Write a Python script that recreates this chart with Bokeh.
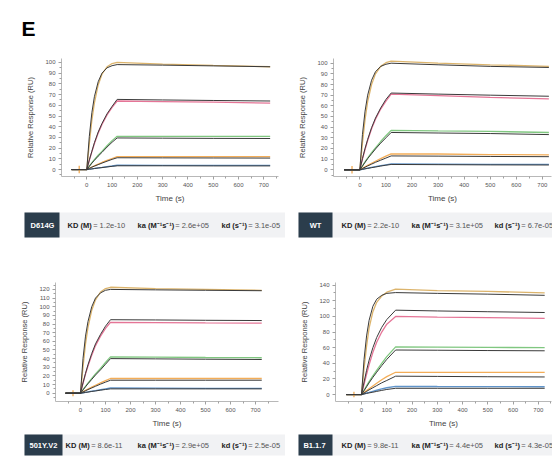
from bokeh.plotting import figure
from bokeh.layouts import column, row
from bokeh.models import Range1d, FixedTicker
from bokeh.core.properties import value
from bokeh.embed import file_html
from bokeh.resources import INLINE

# ---------------- data ----------------
T_STD = [-60, 0, 10, 20, 30, 45, 60, 80, 100, 120, 300, 500, 725]
T_B117 = [-60, 0, 10, 20, 30, 45, 60, 80, 100, 135, 300, 500, 725]

X_TICKS = [0, 100, 200, 300, 400, 500, 600, 700]
X_MINOR = [-50, 50, 150, 250, 350, 450, 550, 650, 750]
Y_TICKS_100 = [0, 10, 20, 30, 40, 50, 60, 70, 80, 90, 100]
Y_MINOR_100 = [-5, 5, 15, 25, 35, 45, 55, 65, 75, 85, 95]
Y_TICKS_120 = [0, 10, 20, 30, 40, 50, 60, 70, 80, 90, 100, 110, 120]
Y_MINOR_120 = [-5, 5, 15, 25, 35, 45, 55, 65, 75, 85, 95, 105, 115, 125]
Y_TICKS_140 = [0, 20, 40, 60, 80, 100, 120, 140]
Y_MINOR_140 = [10, 30, 50, 70, 90, 110, 130]

INJ_T = [-30, -30]
INJ_Y = [-3.5, 3.5]

D614G_FIT = [
    [0, 0, 31, 53, 68, 82, 90, 95, 97, 98, 97.5, 96.8, 96],
    [0, 0, 9, 17, 25, 35, 43, 52, 59, 65.5, 65, 64.5, 64],
    [0, 0, 3, 6, 8.6, 12.5, 16, 21, 25.5, 29.5, 29.3, 29.1, 29],
    [0, 0, 1.1, 2.2, 3.2, 4.6, 6, 7.8, 9.5, 11, 10.9, 10.8, 10.7],
    [0, 0, 0.3, 0.6, 0.9, 1.4, 1.8, 2.4, 3, 3.5, 3.5, 3.4, 3.4],
]
D614G_DATA = [
    [0, 0, 24, 46, 62, 79, 89, 96, 99, 100, 98.5, 97.2, 96],
    [0, 0, 8.5, 16.5, 24, 34, 42, 51, 58, 64, 63.5, 63, 62],
    [0, 0, 3.2, 6.3, 9.2, 13.3, 17, 22.2, 27, 31, 31, 31, 31],
    [0, 0, 1.2, 2.4, 3.5, 5, 6.6, 8.5, 10.3, 12, 12, 12, 12],
    [0, 0, 0.35, 0.7, 1, 1.5, 2, 2.7, 3.3, 4, 3.9, 3.9, 3.8],
]
WT_FIT = [
    [0, 0, 33, 55, 70, 84, 92, 97, 99, 100, 98.5, 97, 96],
    [0, 0, 10.5, 20, 28.5, 39.5, 48.5, 58, 66, 72, 71, 70, 69],
    [0, 0, 3.5, 7, 10.5, 15, 19.5, 25, 30, 35, 34.5, 34, 33],
    [0, 0, 1.2, 2.4, 3.6, 5.3, 7, 9, 11, 13, 12.8, 12.5, 12.3],
    [0, 0, 0.4, 0.9, 1.3, 2, 2.6, 3.5, 4.3, 5, 4.8, 4.6, 4.5],
]
WT_DATA = [
    [0, 0, 25, 47, 64, 80, 90, 97, 100.5, 102, 100, 98.5, 97],
    [0, 0, 10, 19, 27.5, 38.5, 47.5, 57, 64.5, 71, 69.5, 68, 66.5],
    [0, 0, 3.7, 7.5, 11, 16, 20.5, 26.5, 32, 37, 36.5, 36, 35],
    [0, 0, 1.4, 2.8, 4.2, 6.1, 8, 10.5, 12.8, 15, 14.8, 14.3, 14],
    [0, 0, 0.45, 1, 1.5, 2.2, 2.9, 3.8, 4.7, 5.5, 5.3, 5.1, 5],
]
V2_FIT = [
    [0, 0, 40, 66, 83, 100, 110, 116, 119, 120, 119.5, 119, 118.5],
    [0, 0, 12, 23, 33, 46, 57, 68, 77.5, 85, 84.7, 84.3, 84],
    [0, 0, 3.8, 7.5, 11, 16, 21, 27, 33.5, 40, 39.7, 39.3, 39],
    [0, 0, 1.4, 2.8, 4.2, 6.1, 8, 10.5, 12.8, 15, 15, 15, 15],
    [0, 0, 0.4, 0.9, 1.3, 2, 2.6, 3.5, 4.3, 5, 5, 5, 5],
]
V2_DATA = [
    [0, 0, 30, 57, 76, 96, 108, 117, 121, 122.5, 121, 120, 119],
    [0, 0, 11.5, 22, 31.5, 44, 55, 66, 75, 82, 81.7, 81.3, 81],
    [0, 0, 4, 8, 11.7, 17, 22.3, 28.6, 35.5, 42, 41.7, 41.3, 41],
    [0, 0, 1.6, 3.2, 4.8, 7, 9.2, 12, 14.6, 17, 17, 17, 17],
    [0, 0, 0.5, 1, 1.5, 2.3, 3, 4, 5, 6, 5.8, 5.6, 5.5],
]
B117_FIT = [
    [0, 0, 45, 75, 95, 113, 122, 127, 129.5, 130.5, 129.5, 128.5, 127],
    [0, 0, 16, 31, 44, 60, 73, 86, 96, 108, 107, 106, 105],
    [0, 0, 5, 10, 15, 22, 28.5, 37, 45, 57, 56.7, 56.3, 56],
    [0, 0, 2, 4, 6, 8.7, 11.4, 15, 18, 23.5, 23.2, 22.8, 22.5],
    [0, 0, 0.7, 1.4, 2.1, 3, 4, 5.3, 6.5, 8, 8, 8, 8],
]
B117_DATA = [
    [0, 0, 33, 62, 85, 106, 118, 126, 131, 135, 133, 132, 130],
    [0, 0, 13, 26, 38, 54, 67, 80, 90, 100, 99, 98.5, 97.5],
    [0, 0, 5.5, 11, 16.5, 24, 31, 40, 48.5, 61, 60.7, 60.3, 60],
    [0, 0, 2.5, 5, 7.4, 11, 14.5, 19, 23, 28.5, 28.5, 28.5, 28.5],
    [0, 0, 1, 2, 2.8, 4.2, 5.5, 7.2, 8.7, 10.5, 10.3, 10.2, 10],
]

NAMES = ["D614G", "WT", "501Y.V2", "B1.1.7"]
KD = ["1.2e-10", "2.2e-10", "8.6e-11", "9.8e-11"]
KA = ["2.6e+05", "3.1e+05", "2.9e+05", "4.4e+05"]
KDIS = ["3.1e-05", "6.7e-05", "2.5e-05", "4.3e-05"]

DATA_COLORS = ["#d8ac5c", "#e2668c", "#72c172", "#f2a446", "#4f88c4"]
FIT_COLOR = "#3a3a3a"
FONT = "Liberation Sans"

# ---------------- helpers ----------------
BOLD_W = {"K": .722, "D": .722, " ": .278, "(": .333, ")": .333, "M": .833, "k": .556,
          "a": .556, "d": .611, "s": .556, "\u00b9": .333, "\u207b": .36}


def bold_width(s, size):
    return sum(BOLD_W.get(c, .556) for c in s) * size


def make_panel(width, height, xr, yr, borders, yticks, yminor, T, fits, datas):
    bl, br, bt, bb = borders
    p = figure(width=width, height=height, x_range=Range1d(*xr), y_range=Range1d(*yr),
               output_backend="svg", toolbar_location=None,
               min_border_left=bl, min_border_right=br, min_border_top=bt, min_border_bottom=bb)
    p.outline_line_color = None
    p.grid.visible = False
    p.xaxis.ticker = FixedTicker(ticks=X_TICKS, minor_ticks=X_MINOR)
    p.yaxis.ticker = FixedTicker(ticks=yticks, minor_ticks=yminor)
    p.xaxis.axis_label = "Time (s)"
    p.yaxis.axis_label = "Relative Response (RU)"
    for ax in (p.xaxis[0], p.yaxis[0]):
        ax.axis_line_color = "#b8b8b8"
        ax.major_tick_line_color = "#a0a0a0"
        ax.minor_tick_line_color = "#a0a0a0"
        ax.major_tick_out = 3
        ax.major_tick_in = 0
        ax.minor_tick_out = 2
        ax.minor_tick_in = 0
        ax.major_label_text_font = FONT
        ax.major_label_text_font_size = "6px"
        ax.major_label_text_color = "#555555"
        ax.major_label_standoff = 3
        ax.axis_label_text_font = FONT
        ax.axis_label_text_font_style = "normal"
        ax.axis_label_text_color = "#444444"
    p.xaxis.axis_label_text_font_size = "8px"
    p.xaxis.axis_label_standoff = 4
    p.yaxis.axis_label_text_font_size = "7.5px"
    p.yaxis.axis_label_standoff = 7
    for vals, col in zip(datas, DATA_COLORS):
        p.line(T, vals, line_color=col, line_width=1.3, line_alpha=0.9)
    p.line(INJ_T, INJ_Y, line_color=DATA_COLORS[3], line_width=1.2)
    for vals in fits:
        p.line(T, vals, line_color=FIT_COLOR, line_width=1.0)
    return p


def make_bar(width, height, y0, y1, gray_x, box_x, name_x, kd_x, ka_x, kdis_x, i):
    b = figure(width=width, height=height, x_range=Range1d(0, width), y_range=Range1d(height, 0),
               output_backend="svg", toolbar_location=None, min_border=0,
               x_axis_type=None, y_axis_type=None)
    b.outline_line_color = None
    b.quad(left=[gray_x[0]], right=[gray_x[1]], top=[y0], bottom=[y1],
           fill_color="#f1f2f4", line_color=None)
    b.quad(left=[box_x[0]], right=[box_x[1]], top=[y0], bottom=[y1],
           fill_color="#2b3d4c", line_color=None)
    yc = (y0 + y1) / 2
    fs = 7.5
    b.text(x=[name_x], y=[yc], text=[NAMES[i]], text_font=value(FONT), text_font_size="7.5px",
           text_font_style="bold", text_color="white", text_align="center", text_baseline="middle")
    labels = ["KD (M)", "ka (M\u207b\u00b9s\u207b\u00b9)", "kd (s\u207b\u00b9)"]
    vals = [KD[i], KA[i], KDIS[i]]
    for x, lab, v in zip([kd_x, ka_x, kdis_x], labels, vals):
        b.text(x=[x], y=[yc], text=[lab], text_font=value(FONT), text_font_size="7.5px",
               text_font_style="bold", text_color="#222222", text_align="left", text_baseline="middle")
        b.text(x=[x + bold_width(lab, fs) + 1.5], y=[yc], text=["= " + v], text_font=value(FONT),
               text_font_size="7.5px", text_color="#555555", text_align="left", text_baseline="middle")
    return b


# ---------------- header ----------------
header = figure(width=552, height=45, x_range=Range1d(0, 552), y_range=Range1d(45, 0),
                output_backend="svg", toolbar_location=None, min_border=0,
                x_axis_type=None, y_axis_type=None)
header.outline_line_color = None
header.text(x=[21], y=[28], text=["E"], text_font=value(FONT), text_font_size="21px",
            text_font_style="bold", text_color="black", text_baseline="alphabetic")

# ---------------- panels ----------------
f1 = make_panel(285, 160, (-100, 758), (-6.5, 103.7), (61, 7, 13, 28),
                Y_TICKS_100, Y_MINOR_100, T_STD, D614G_FIT, D614G_DATA)
f2 = make_panel(267, 160, (-101, 735), (-6.3, 104.4), (48, 1, 13, 28),
                Y_TICKS_100, Y_MINOR_100, T_STD, WT_FIT, WT_DATA)
f3 = make_panel(285, 185, (-100, 792), (-9.6, 128), (55, 7, 37, 28),
                Y_TICKS_120, Y_MINOR_120, T_STD, V2_FIT, V2_DATA)
f4 = make_panel(267, 185, (-103, 752), (-8.9, 143.4), (50, 1, 37, 28),
                Y_TICKS_140, Y_MINOR_140, T_B117, B117_FIT, B117_DATA)

b1 = make_bar(285, 40, 7, 32, (24, 285), (24, 59), 42, 67, 137, 221, 0)
b2 = make_bar(267, 40, 7, 32, (13, 267), (13, 47), 30, 56, 126, 209, 1)
b3 = make_bar(285, 31, 4, 25, (24, 285), (24, 62), 43, 65, 137, 221, 2)
b4 = make_bar(267, 31, 4, 25, (13, 267), (13, 47), 29, 56, 126, 209, 3)

layout = column(header, row(f1, f2), row(b1, b2), row(f3, f4), row(b3, b4))

open("out.html", "w").write(file_html(layout, INLINE))
